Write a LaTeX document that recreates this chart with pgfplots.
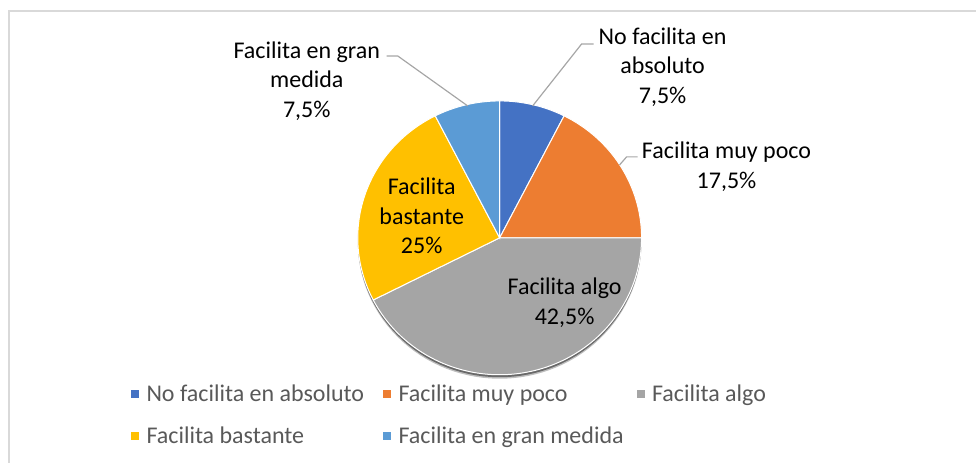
\documentclass[border=0pt]{standalone}
\usepackage{fontspec}
\setmainfont{Carlito}
\usepackage{pgfplots}
\pgfplotsset{compat=1.18}
\definecolor{c1}{HTML}{4472C4}
\definecolor{c2}{HTML}{ED7D31}
\definecolor{c3}{HTML}{A5A5A5}
\definecolor{c4}{HTML}{FFC000}
\definecolor{c5}{HTML}{5B9BD5}
\definecolor{legtext}{HTML}{595959}
\definecolor{framec}{HTML}{D9D9D9}
\definecolor{leader}{HTML}{A6A6A6}
\newcommand\lab{\fontsize{24}{29.5}\selectfont}
\def\cx{500}\def\cy{225}\def\rx{142}\def\ry{137}
\def\start{90}
\newcommand\slice[2]{%
  \pgfmathsetmacro\angB{\start}%
  \pgfmathsetmacro\angA{\start-3.6*#2}%
  \addplot[forget plot, fill=#1, draw=white, line width=1pt, domain=\angA:\angB, samples=90]
    ({\cx+\rx*cos(x)},{\cy+\ry*sin(x)}) -- (axis cs:\cx,\cy) -- cycle;
  \xdef\start{\angA}%
}
\pgfplotsset{sq/.style={legend image code/.code={\fill[#1] (0pt,-3.5pt) rectangle (7pt,3.5pt);}}}
\begin{document}
\begin{tikzpicture}
\begin{axis}[
  scale only axis, width=977pt, height=463pt,
  xmin=0, xmax=977, ymin=0, ymax=463,
  hide axis, clip=false,
  legend columns=3,
  legend style={at={(axis cs:131,80)}, anchor=north west, draw=none, fill=none,
    font=\lab, text=legtext, inner sep=0pt, row sep=20pt,
    /tikz/every odd column/.append style={column sep=6pt},
    /tikz/column 2/.style={column sep=17pt},
    /tikz/column 4/.style={column sep=11pt}},
  legend cell align=left,
]
\path (axis cs:0,0) rectangle (axis cs:977,463);
\draw[framec, line width=1.3pt] (axis cs:9,0) -- (axis cs:9,452) -- (axis cs:977,452);
% shadow
\addplot[forget plot, fill=black, opacity=0.25, draw=none, domain=0:360, samples=120]
  ({\cx+\rx*cos(x)},{\cy-4+\ry*sin(x)}) -- cycle;
\addplot[forget plot, fill=black, opacity=0.45, draw=none, domain=0:360, samples=120]
  ({\cx+\rx*cos(x)},{\cy-2.5+\ry*sin(x)}) -- cycle;
% slices (values in %)
\slice{c1}{7.5}
\slice{c2}{17.5}
\slice{c3}{42.5}
\slice{c4}{25}
\slice{c5}{7.5}
% leader lines
\addplot[forget plot, leader, line width=1.2pt] coordinates {(468,357) (398,407) (387,407)};
\addplot[forget plot, leader, line width=1.2pt] coordinates {(533,357) (582,419) (594,419)};
\addplot[forget plot, leader, line width=1.2pt] coordinates {(620,298) (627,306) (638,306)};
% data labels
\node[align=center, font=\lab] at (axis cs:307,382) {Facilita en gran\\medida\\7,5\%};
\node[align=center, font=\lab] at (axis cs:663,396) {No facilita en\\absoluto\\7,5\%};
\node[align=center, font=\lab] at (axis cs:727,296) {Facilita muy poco\\17,5\%};
\node[align=center, font=\lab] at (axis cs:422,247) {Facilita\\bastante\\25\%};
\node[align=center, font=\lab] at (axis cs:565,160) {Facilita algo\\42,5\%};
% legend
\addlegendimage{sq=c1}\addlegendentry{No facilita en absoluto}
\addlegendimage{sq=c2}\addlegendentry{Facilita muy poco}
\addlegendimage{sq=c3}\addlegendentry{Facilita algo}
\addlegendimage{sq=c4}\addlegendentry{Facilita bastante}
\addlegendimage{sq=c5}\addlegendentry{Facilita en gran medida}
\end{axis}
\end{tikzpicture}
\end{document}
